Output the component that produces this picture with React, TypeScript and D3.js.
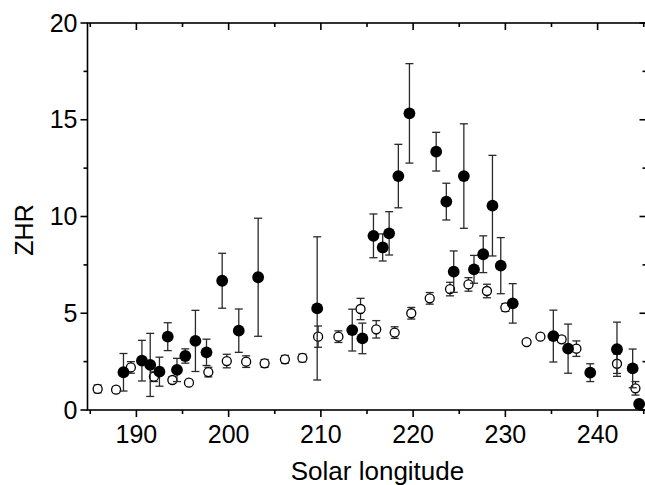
import React from 'react';
import * as d3 from 'd3';

// open circles (series 2)
const openLon = [185.8, 187.8, 189.4, 191.9, 193.9, 195.7, 197.8, 199.8, 201.9, 203.9, 206.1, 208.0, 209.7, 211.9, 214.3, 216.0, 218.0, 219.8, 221.8, 224.0, 226.0, 228.0, 230.0, 232.3, 233.8, 236.1, 237.7, 242.1, 244.1];
const openZhr = [1.09, 1.05, 2.2, 1.72, 1.55, 1.41, 1.96, 2.53, 2.5, 2.41, 2.62, 2.69, 3.79, 3.79, 5.22, 4.17, 4.0, 5.0, 5.77, 6.25, 6.49, 6.15, 5.3, 3.51, 3.79, 3.65, 3.17, 2.39, 1.12];
const openErr = [0.2, 0.15, 0.3, 0.25, 0.15, 0.12, 0.25, 0.35, 0.3, 0.2, 0.2, 0.2, 0.55, 0.3, 0.55, 0.45, 0.3, 0.3, 0.3, 0.35, 0.35, 0.35, 0.2, 0.1, 0.1, 0.15, 0.4, 0.5, 0.35];

// filled circles (series 1)
const filledLon = [188.6, 190.6, 191.5, 192.5, 193.4, 194.4, 195.3, 196.4, 197.6, 199.3, 201.1, 203.2, 209.6, 213.4, 214.5, 215.7, 216.7, 217.4, 218.4, 219.6, 222.5, 223.6, 224.4, 225.5, 226.6, 227.6, 228.6, 229.5, 230.8, 235.2, 236.8, 239.2, 242.1, 243.8, 244.5];
const filledZhr = [1.95, 2.55, 2.33, 1.98, 3.79, 2.07, 2.79, 3.57, 2.98, 6.68, 4.1, 6.86, 5.25, 4.13, 3.7, 9.0, 8.4, 9.13, 12.09, 15.33, 13.35, 10.77, 7.15, 12.09, 7.27, 8.05, 10.56, 7.46, 5.51, 3.82, 3.17, 1.93, 3.14, 2.15, 0.31];
const filledErr = [0.97, 1.05, 1.63, 0.75, 0.72, 0.6, 0.37, 1.58, 0.68, 1.42, 1.12, 3.05, 3.7, 1.08, 0.79, 1.13, 0.7, 1.12, 1.64, 2.57, 1.0, 0.95, 1.07, 2.7, 0.72, 0.95, 2.6, 1.45, 1.02, 1.34, 1.27, 0.46, 1.4, 1.0, 0];

const xMajor = [190, 200, 210, 220, 230, 240];
const xMinor = [185, 195, 205, 215, 225, 235, 245];
const yMajor = [0, 5, 10, 15, 20];
const yMinor = [2.5, 7.5, 12.5, 17.5];

const W = 645, H = 485;
const font = '"Liberation Sans", Arial, Helvetica, sans-serif';

export default function App() {
  const x = d3.scaleLinear().domain([184.7, 245.3]).range([87.5, 646.5]);
  const y = d3.scaleLinear().domain([0, 20]).range([410, 23]);
  const [x0, x1] = x.range();
  const [y0, y1] = y.range();

  const errBars = (lon: number[], val: number[], err: number[], key: string) =>
    lon.map((d, i) => {
      if (!err[i]) return null;
      const cx = x(d), top = y(val[i] + err[i]), bot = y(val[i] - err[i]);
      return (
        <g key={key + i} stroke="#2a2a2a" strokeWidth={1.3}>
          <line x1={cx} x2={cx} y1={top} y2={bot} />
          <line x1={cx - 4} x2={cx + 4} y1={top} y2={top} />
          <line x1={cx - 4} x2={cx + 4} y1={bot} y2={bot} />
        </g>
      );
    });

  return (
    <svg width={W} height={H} style={{ position: 'absolute', left: 0, top: 0, display: 'block' }} fontFamily={font}>
      <rect width={W} height={H} fill="#fff" />

      {/* open series */}
      {errBars(openLon, openZhr, openErr, 'oe')}
      {openLon.map((d, i) => (
        <circle key={'o' + i} cx={x(d)} cy={y(openZhr[i])} r={4.5} fill="#fff" stroke="#000" strokeWidth={1.3} />
      ))}

      {/* filled series */}
      {errBars(filledLon, filledZhr, filledErr, 'fe')}
      {filledLon.map((d, i) => (
        <circle key={'f' + i} cx={x(d)} cy={y(filledZhr[i])} r={5.9} fill="#000" />
      ))}

      {/* frame */}
      <g stroke="#000" strokeWidth={1.6} fill="none">
        <rect x={x0} y={y1} width={x1 - x0} height={y0 - y1} />
        {xMajor.map((t) => (
          <g key={'xm' + t}>
            <line x1={x(t)} x2={x(t)} y1={y0} y2={y0 + 7} />
            <line x1={x(t)} x2={x(t)} y1={y1} y2={y1 + 7} />
          </g>
        ))}
        {xMinor.map((t) => (
          <g key={'xn' + t}>
            <line x1={x(t)} x2={x(t)} y1={y0} y2={y0 + 4} />
            <line x1={x(t)} x2={x(t)} y1={y1} y2={y1 + 4} />
          </g>
        ))}
        {yMajor.map((t) => (
          <g key={'ym' + t}>
            <line x1={x0 - 7} x2={x0} y1={y(t)} y2={y(t)} />
            <line x1={x1 - 7} x2={x1} y1={y(t)} y2={y(t)} />
          </g>
        ))}
        {yMinor.map((t) => (
          <g key={'yn' + t}>
            <line x1={x0 - 4} x2={x0} y1={y(t)} y2={y(t)} />
            <line x1={x1 - 4} x2={x1} y1={y(t)} y2={y(t)} />
          </g>
        ))}
      </g>

      {/* tick labels */}
      <g fontSize={25} fill="#000">
        {xMajor.map((t) => (
          <text key={'xl' + t} x={x(t)} y={443} textAnchor="middle">{t}</text>
        ))}
        {yMajor.map((t) => (
          <text key={'yl' + t} x={x0 - 10} y={y(t) + 8.5} textAnchor="end">{t}</text>
        ))}
      </g>

      <text x={377.5} y={480} textAnchor="middle" fontSize={26}>Solar longitude</text>
      <text transform="translate(33,230) rotate(-90)" textAnchor="middle" fontSize={25}>ZHR</text>
    </svg>
  );
}
